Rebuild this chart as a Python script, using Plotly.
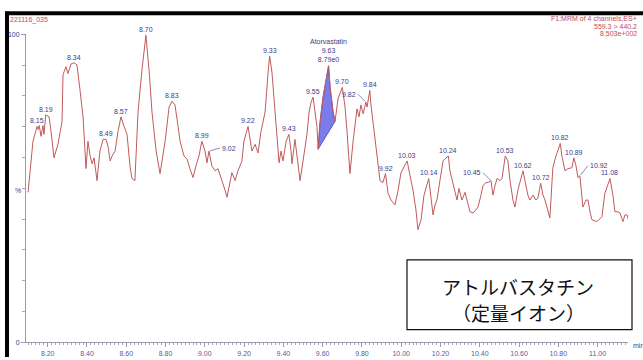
import numpy as np
import plotly.graph_objects as go

# ---------------- data ----------------
rt = [8.100, 8.125, 8.146, 8.151, 8.157, 8.166, 8.176, 8.181, 8.190, 8.207, 8.217, 8.232,
      8.252, 8.273, 8.278, 8.293, 8.303, 8.319, 8.334, 8.349, 8.364, 8.380, 8.390, 8.395,
      8.405, 8.416, 8.426, 8.436, 8.451, 8.466, 8.482, 8.497, 8.507, 8.518, 8.528, 8.543,
      8.558, 8.573, 8.589, 8.604, 8.619, 8.629, 8.644, 8.660, 8.680, 8.700, 8.716, 8.731,
      8.752, 8.772, 8.798, 8.818, 8.833, 8.848, 8.864, 8.874, 8.894, 8.909, 8.924, 8.940,
      8.955, 8.970, 8.985, 9.001, 9.011, 9.021, 9.036, 9.052, 9.067, 9.088, 9.103, 9.113,
      9.128, 9.138, 9.154, 9.169, 9.189, 9.199, 9.220, 9.230, 9.240, 9.256, 9.271, 9.286,
      9.307, 9.322, 9.330, 9.342, 9.357, 9.367, 9.378, 9.388, 9.398, 9.414, 9.428, 9.439,
      9.444, 9.459, 9.475, 9.485, 9.500, 9.520, 9.531, 9.541, 9.551, 9.561, 9.571, 9.577,
      9.587, 9.602, 9.630, 9.638, 9.653, 9.663, 9.678, 9.700, 9.714, 9.724, 9.739, 9.755,
      9.765, 9.775, 9.785, 9.795, 9.806, 9.820, 9.826, 9.840, 9.846, 9.856, 9.866, 9.877,
      9.892, 9.907, 9.920, 9.933, 9.948, 9.968, 9.984, 9.999, 10.015, 10.030, 10.045, 10.060,
      10.075, 10.085, 10.101, 10.116, 10.140, 10.146, 10.162, 10.172, 10.182, 10.197, 10.213,
      10.223, 10.240, 10.248, 10.264, 10.284, 10.294, 10.309, 10.325, 10.340, 10.350, 10.366,
      10.381, 10.391, 10.406, 10.417, 10.432, 10.442, 10.457, 10.467, 10.478, 10.488, 10.503,
      10.513, 10.530, 10.543, 10.554, 10.569, 10.579, 10.594, 10.620, 10.630, 10.645, 10.655,
      10.671, 10.686, 10.696, 10.710, 10.722, 10.732, 10.747, 10.757, 10.772, 10.788, 10.810,
      10.818, 10.834, 10.849, 10.869, 10.879, 10.890, 10.900, 10.910, 10.925, 10.941, 10.951,
      10.961, 10.971, 10.997, 11.022, 11.037, 11.053, 11.063, 11.078, 11.088, 11.104, 11.114,
      11.129, 11.139, 11.150, 11.160]
intensity = [48.7, 65.3, 70.1, 69.1, 70.4, 66.9, 70.4, 67.5, 73.9, 73.2, 68.5, 59.9,
             64.3, 71.7, 86.9, 89.5, 87.3, 90.4, 90.8, 90.1, 82.2, 73.2, 62.1, 56.4,
             65.3, 60.5, 58.0, 59.9, 52.5, 62.1, 65.9, 65.9, 63.7, 58.9, 60.5, 62.1,
             68.5, 73.2, 70.1, 67.5, 57.3, 53.2, 52.5, 74.8, 88.5, 99.7, 88.5, 74.8,
             62.1, 54.8, 65.3, 76.4, 78.3, 77.1, 70.1, 65.3, 60.5, 59.6, 56.4, 53.5,
             57.3, 60.5, 65.3, 62.1, 58.3, 62.1, 57.3, 55.7, 56.4, 52.5, 49.4, 47.1,
             52.5, 55.1, 52.5, 55.7, 58.9, 65.3, 70.1, 65.3, 62.1, 64.3, 61.5, 68.5,
             74.8, 87.6, 93.0, 87.6, 74.8, 65.3, 58.3, 62.1, 58.9, 65.3, 67.5, 62.1,
             58.0, 65.9, 57.3, 52.5, 58.9, 67.5, 74.8, 78.0, 79.6, 75.5, 70.1, 62.7,
             71.7, 79.6, 89.8, 82.8, 74.8, 71.7, 79.0, 82.8, 76.4, 68.5, 54.8, 65.3,
             71.7, 75.8, 73.2, 77.1, 74.2, 78.0, 76.4, 81.8, 77.1, 71.7, 65.3, 58.9,
             52.5, 51.9, 54.8, 48.4, 46.2, 44.6, 49.4, 55.1, 57.3, 58.9, 54.1, 49.4,
             43.0, 36.6, 39.8, 47.8, 53.2, 49.4, 41.4, 44.6, 46.2, 52.5, 58.9,
             59.6, 60.5, 55.7, 51.6, 46.2, 50.0, 46.2, 48.7, 44.6, 42.4, 42.0,
             43.0, 43.9, 47.8, 51.0, 51.9, 51.9, 52.5, 47.8, 51.0, 53.2, 52.5,
             53.2, 60.5, 58.9, 52.5, 46.2, 43.9, 49.4, 55.7, 52.5, 47.8, 46.2,
             47.8, 46.2, 46.8, 51.6, 47.8, 46.2, 43.0, 40.4, 56.7, 60.5, 64.6,
             60.5, 55.7, 56.4, 56.7, 59.9, 57.3, 53.5, 54.1, 43.9, 46.2, 46.2,
             42.4, 39.8, 39.2, 40.8, 48.4, 51.0, 53.2, 47.8, 42.4, 42.4, 42.0,
             39.2, 41.4, 41.4, 38.9]

peak_labels = ["8.15", "8.19", "8.34", "8.49", "8.57", "8.70", "8.83", "8.99", "9.22",
               "9.33", "9.43", "9.55", "9.70", "9.84", "9.92", "10.03", "10.14", "10.24",
               "10.53", "10.62", "10.72", "10.82", "10.89", "11.08"]
leader_labels = ["9.02", "9.82", "10.45", "10.92"]
leader_offsets = [(11, -3), (-8, -8), (-8, -8), (8, -10)]

compound = "Atorvastatin"
compound_rt = "9.63"
compound_area = "8.79e0"
peak_base = [9.577, 9.663]

x_ticks = [8.20, 8.40, 8.60, 8.80, 9.00, 9.20, 9.40, 9.60, 9.80, 10.00, 10.20, 10.40,
           10.60, 10.80, 11.00]
x_ticktext = ["8.20", "8.40", "8.60", "8.80", "9.00", "9.20", "9.40", "9.60", "9.80",
              "10.00", "10.20", "10.40", "10.60", "10.80", "11.00"]

sample_name = "221116_035"
header_lines = ["F1:MRM of 4 channels,ES+", "559.3 > 440.2", "8.503e+002"]
box_lines = ["アトルバスタチン", "（定量イオン）"]

# ---------------- figure ----------------
W, H = 643, 360
rt_a = np.array(rt)
int_a = np.array(intensity)

RED = "#c05a5a"
BLUE_TXT = "#3c3c8c"
LBL_FONT = dict(family="Liberation Sans, Arial, sans-serif", size=7, color=BLUE_TXT)
HDR_FONT = dict(family="Liberation Sans, Arial, sans-serif", size=7, color="#c04a5a")

fig = go.Figure()

# filled integrated peak
mask = (rt_a >= peak_base[0]) & (rt_a <= peak_base[1])
fx = list(rt_a[mask]) + [rt_a[mask][0]]
fy = list(int_a[mask]) + [int_a[mask][0]]
fig.add_trace(go.Scatter(x=fx, y=fy, mode="lines", fill="toself",
                         fillcolor="#7b7bea", line=dict(color="#4848c0", width=0.8),
                         hoverinfo="skip", showlegend=False))

fig.add_trace(go.Scatter(x=rt, y=intensity, mode="lines",
                         line=dict(color=RED, width=1), showlegend=False))

# local maxima for labels
locmax = [i for i in range(1, len(int_a) - 1)
          if int_a[i] >= int_a[i - 1] and int_a[i] >= int_a[i + 1]]


def nearest_peak(lbl):
    t = float(lbl)
    return min(locmax, key=lambda i: abs(rt_a[i] - t))


annotations = []
for lbl in peak_labels:
    i = nearest_peak(lbl)
    annotations.append(dict(x=rt_a[i], y=int_a[i], text=lbl, showarrow=False,
                            xref="x", yref="y", xanchor="center", yanchor="bottom",
                            yshift=0, font=LBL_FONT))
for lbl, (ax, ay) in zip(leader_labels, leader_offsets):
    i = nearest_peak(lbl)
    annotations.append(dict(x=rt_a[i], y=int_a[i], text=lbl, showarrow=True,
                            arrowhead=0, arrowwidth=0.6, arrowcolor=BLUE_TXT,
                            ax=ax, ay=ay, standoff=1, xref="x", yref="y",
                            xanchor="left" if ax > 0 else "right", yanchor="middle",
                            font=LBL_FONT))
ci = nearest_peak(compound_rt)
annotations.append(dict(x=rt_a[ci], y=int_a[ci],
                        text=f"{compound}<br>{compound_rt}<br>{compound_area}",
                        showarrow=False, xref="x", yref="y", xanchor="center",
                        yanchor="bottom", yshift=1, font=LBL_FONT))

# header texts
annotations.append(dict(x=8 / W, y=1 - 16 / H, xref="paper", yref="paper",
                        text=sample_name, showarrow=False, xanchor="left",
                        yanchor="middle", font=HDR_FONT))
for k, line in enumerate(header_lines):
    annotations.append(dict(x=639 / W, y=1 - (15 + 7.5 * k) / H, xref="paper",
                            yref="paper", text=line, showarrow=False, xanchor="right",
                            yanchor="middle", font=HDR_FONT))
# % label and min
annotations.append(dict(x=18 / W, y=1 - 190 / H, xref="paper", yref="paper", text="%",
                        showarrow=False, xanchor="center", yanchor="middle",
                        font=LBL_FONT))
annotations.append(dict(x=631 / W, y=1 - 348 / H, xref="paper", yref="paper", text="min",
                        showarrow=False, xanchor="left", yanchor="middle",
                        font=LBL_FONT))
# Japanese box (two lines)
for k, line in enumerate(box_lines):
    annotations.append(dict(x=518 / W, y=1 - (288 + 27 * k) / H, xref="paper",
                            yref="paper", text=line, showarrow=False,
                            xanchor="center", yanchor="middle",
                            font=dict(family="Noto Sans CJK JP", size=19,
                                      color="#111111")))

shapes = [
    dict(type="rect", xref="paper", yref="paper", x0=407 / W, x1=632 / W,
         y0=1 - 332 / H, y1=1 - 261 / H, line=dict(color="#111111", width=1.2)),
    dict(type="line", xref="paper", yref="paper", x0=5 / W, x1=1.0,
         y0=1 - 9.5 / H, y1=1 - 9.5 / H, line=dict(color="black", width=4)),
    dict(type="line", xref="paper", yref="paper", x0=7 / W, x1=7 / W,
         y0=0, y1=1 - 8 / H, line=dict(color="black", width=4)),
]

x0_px, x1_px = 26, 628
px_per_min = 196.4
t_at_820 = 47.7
xr = [8.20 + (x0_px - t_at_820) / px_per_min, 8.20 + (x1_px - t_at_820) / px_per_min]

fig.update_layout(
    width=W, height=H, margin=dict(l=0, r=0, t=0, b=0),
    paper_bgcolor="white", plot_bgcolor="white",
    annotations=annotations, shapes=shapes,
    xaxis=dict(domain=[x0_px / W, x1_px / W], range=xr, showgrid=False, zeroline=False,
               showline=True, linecolor="#9a9aa8", linewidth=1,
               tickvals=x_ticks, ticktext=x_ticktext, ticks="outside", ticklen=4,
               tickcolor="#9a9aa8", tickwidth=1,
               tickfont=dict(family="Liberation Sans", size=7, color="#5a5aa0"),
               minor=dict(dtick=0.02, tick0=8.2, ticks="outside", ticklen=2,
                          tickcolor="#a8a8b8", showgrid=False)),
    yaxis=dict(domain=[15 / H, 329 / H], range=[0, 100], showgrid=False, zeroline=False,
               showline=True, linecolor="#9a9aa8", linewidth=1,
               tickvals=[0, 100], ticktext=["0", "100"], ticks="outside", ticklen=4,
               tickcolor="#9a9aa8",
               tickfont=dict(family="Liberation Sans", size=7, color=BLUE_TXT),
               minor=dict(dtick=10, ticks="outside", ticklen=3, tickcolor="#a8a8b8",
                          showgrid=False)),
    showlegend=False,
)

fig.write_html("out.html")
